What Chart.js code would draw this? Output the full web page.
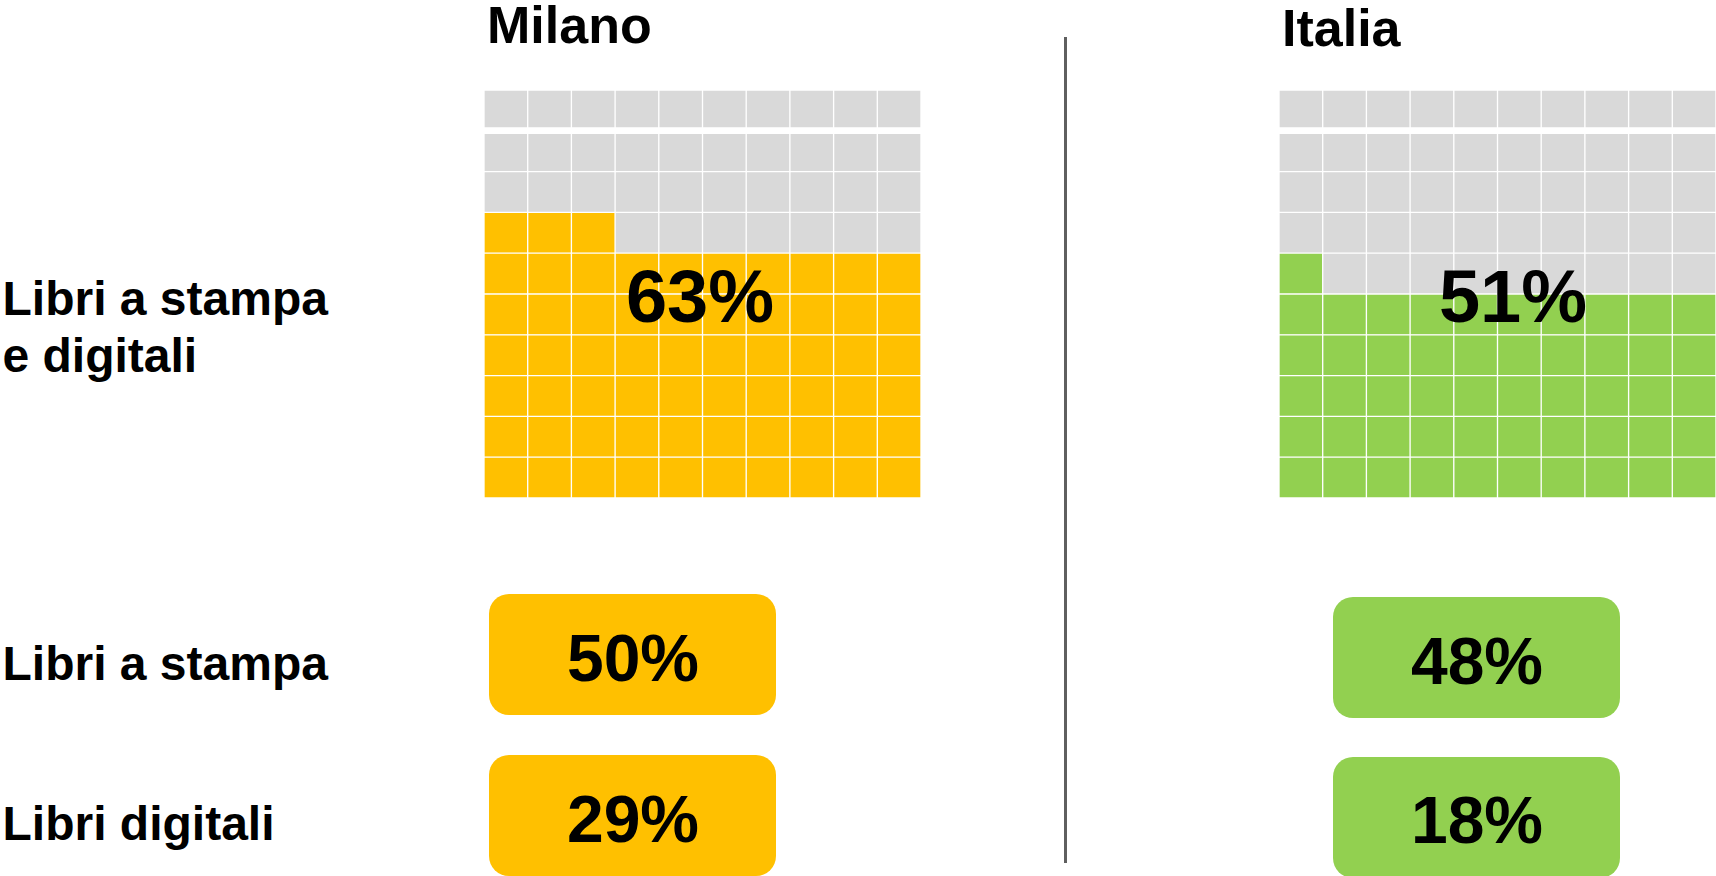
<!DOCTYPE html>
<html lang="it">
<head>
  <meta charset="UTF-8">
  <title>Lettura di libri - Milano e Italia</title>
  <script src="https://cdn.jsdelivr.net/npm/chart.js"></script>
  <style>
    body {
      margin: 0;
      width: 1716px;
      height: 876px;
      overflow: hidden;
      background: #ffffff;
      position: relative;
      font-family: "Liberation Sans", Arial, sans-serif;
      font-weight: bold;
      color: #000000;
    }
    .abs { position: absolute; white-space: nowrap; line-height: 1; }
    .waffle { position: absolute; width: 437px; height: 408px; }
    .pill { position: absolute; width: 287px; height: 121px; border-radius: 20px; }
    .divider { position: absolute; left: 1064px; top: 37px; width: 3px; height: 826px; background: #5f5f5f; }
  </style>
</head>
<body>
  <div class="divider"></div>
  <script>
    // data
    const regions = ['Milano', 'Italia'];
    const totalReaders = [63, 51];      // libri a stampa e digitali (%)
    const printReaders = [50, 48];      // libri a stampa (%)
    const digitalReaders = [29, 18];    // libri digitali (%)
    const rowLabels = [['Libri a stampa', 'e digitali'], ['Libri a stampa'], ['Libri digitali']];
    const gridColumns = ['c1', 'c2', 'c3', 'c4', 'c5', 'c6', 'c7', 'c8', 'c9', 'c10'];
    const gridRows = 10;

    const regionColors = ['#FFC000', '#92D050'];
    const emptyColor = '#D9D9D9';

    // layout (pixels)
    const titleX = [487, 1282];
    const titleBaseline = [42.7, 46];
    const gridLeft = [484, 1279];
    const gridTop = 90;
    const bigLabelX = [700, 1513];
    const pillLeft = [489, 1333];
    const pillTops = [[594, 755], [597, 757]];
    const pillBaselines = [[681, 842], [684, 843]];
    const labelBaselines = [316, 681, 841];

    const ASC = 0.8465; // baseline offset for line-height 1 (Liberation Sans)

    function addText(txt, size, left, baseline, centered) {
      const d = document.createElement('div');
      d.className = 'abs';
      d.textContent = txt;
      d.style.fontSize = size + 'px';
      d.style.top = (baseline - ASC * size) + 'px';
      d.style.left = left + 'px';
      if (centered) d.style.transform = 'translateX(-50%)';
      document.body.appendChild(d);
      return d;
    }

    // row labels on the left
    addText(rowLabels[0][0], 48, 2.5, labelBaselines[0]);
    addText(rowLabels[0][1], 48, 2.5, labelBaselines[0] + 57);
    addText(rowLabels[1][0], 48, 2.5, labelBaselines[1]);
    addText(rowLabels[2][0], 48, 2.5, labelBaselines[2]);

    regions.forEach((name, i) => {
      addText(name, 52, titleX[i], titleBaseline[i]);

      // waffle grid
      const box = document.createElement('div');
      box.className = 'waffle';
      box.style.left = gridLeft[i] + 'px';
      box.style.top = gridTop + 'px';
      const cv = document.createElement('canvas');
      box.appendChild(cv);
      document.body.appendChild(box);

      const datasets = [];
      for (let r = 0; r < gridRows; r++) {
        let bw = 1;
        if (r === gridRows - 1) bw = { left: 1, right: 1, top: 1, bottom: 4 };
        if (r === gridRows - 2) bw = { left: 1, right: 1, top: 3.5, bottom: 1 };
        datasets.push({
          label: 'riga ' + (r + 1),
          data: gridColumns.map(() => [r, r + 1]),
          backgroundColor: gridColumns.map((c, k) => (r * gridColumns.length + k < totalReaders[i]) ? regionColors[i] : emptyColor),
          borderColor: '#ffffff',
          borderWidth: bw,
          borderSkipped: false,
          grouped: false,
          categoryPercentage: 1,
          barPercentage: 1
        });
      }

      new Chart(cv.getContext('2d'), {
        type: 'bar',
        data: { labels: gridColumns, datasets: datasets },
        options: {
          responsive: true,
          maintainAspectRatio: false,
          animation: false,
          layout: { padding: 0 },
          scales: {
            x: { display: false },
            y: { display: false, min: 0, max: gridRows }
          },
          plugins: {
            legend: { display: false },
            tooltip: { enabled: false }
          }
        }
      });

      addText(totalReaders[i] + '%', 74, bigLabelX[i], 323, true);

      // value boxes
      [printReaders[i], digitalReaders[i]].forEach((v, j) => {
        const p = document.createElement('div');
        p.className = 'pill';
        p.style.left = pillLeft[i] + 'px';
        p.style.top = pillTops[i][j] + 'px';
        p.style.background = regionColors[i];
        document.body.appendChild(p);
        addText(v + '%', 66, pillLeft[i] + 144, pillBaselines[i][j], true);
      });
    });
  </script>
</body>
</html>
